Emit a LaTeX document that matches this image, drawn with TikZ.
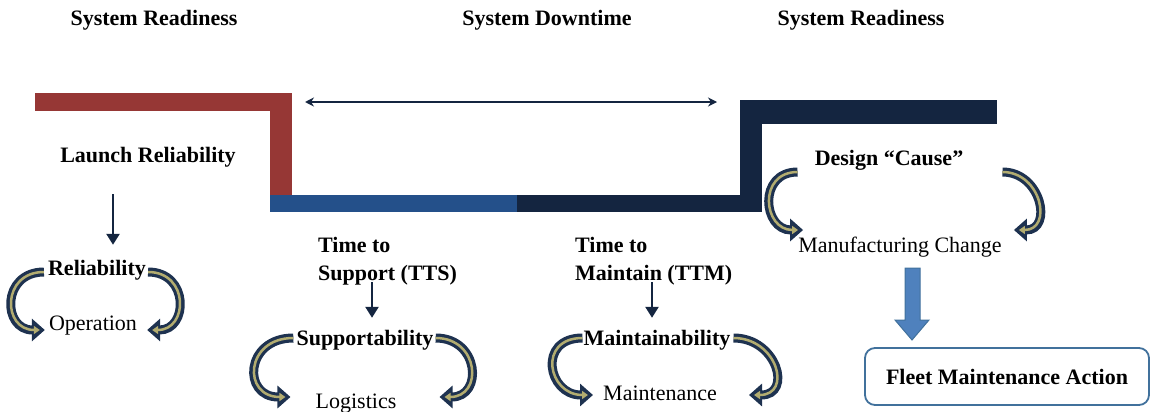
\documentclass[tikz,border=0pt]{standalone}
\usepackage{fontspec}
\setmainfont{Liberation Serif}
\usetikzlibrary{calc,positioning,arrows.meta}

\definecolor{stepred}{RGB}{150,55,53}
\definecolor{stepblue}{RGB}{36,80,138}
\definecolor{stepnavy}{RGB}{20,37,64}
\definecolor{curlnavy}{RGB}{30,50,80}
\definecolor{curlkhaki}{RGB}{178,172,112}
\definecolor{boxblue}{RGB}{65,113,156}
\definecolor{arrowblue}{RGB}{79,129,189}

\tikzset{
    boldtext/.style={font=\fontsize{22}{28}\selectfont\bfseries, inner sep=0pt},
    plaintext/.style={font=\fontsize{22}{28}\selectfont, inner sep=0pt},
    curlout/.style={line width=9pt, curlnavy, -{Triangle[width=22pt,length=13pt]}},
    curlin/.style={line width=2.5pt, curlkhaki, shorten >=5pt, -{Triangle[width=8pt,length=6pt]}},
    droparrow/.style={line width=2.5pt, stepnavy, -{Triangle[width=13pt,length=11pt]}},
    spanarrow/.style={line width=1.6pt, stepnavy, {Stealth[length=9pt,width=9pt]}-{Stealth[length=9pt,width=9pt]}},
    blockarrow/.style={fill=arrowblue, draw=boxblue, line width=1pt},
    fleetbox/.style={draw=boxblue, line width=1.8pt, rounded corners=10pt, minimum width=284pt, minimum height=57pt, fill=white, font=\fontsize{22}{28}\selectfont\bfseries}
}

% two layers: dark rim and light core
\newcommand{\curl}[4]{%
    \draw[curlout] #1 to[out=#3,in=#3,looseness=#4] #2;
    \draw[curlin] #1 to[out=#3,in=#3,looseness=#4] #2;
}

\begin{document}
\begin{tikzpicture}[x=1pt,y=-1pt]

    \useasboundingbox (0,0) rectangle (1151,412);

    % Draw the readiness / downtime steps
    \foreach \xa/\ya/\xb/\yb/\col in {35/93/292/111/stepred, 270/93/292/195/stepred,
                                      270/195/517/212/stepblue, 517/195/762/212/stepnavy,
                                      740/100/762/212/stepnavy, 740/100/997/124/stepnavy} {
        \fill[\col] (\xa,\ya) rectangle (\xb,\yb);
    }

    % Headings
    \node[boldtext] (readyA) at (154,20) {System Readiness};
    \node[boldtext] (downtime) at (547,20) {System Downtime};
    \node[boldtext] (readyB) at (861,20) {System Readiness};

    \coordinate (spanL) at (305,102);
    \coordinate (spanR) at (717,102);
    \draw[spanarrow] (spanL) -- (spanR);

    % Launch branch
    \node[boldtext] (launch) at (148,157) {Launch Reliability};
    \node[boldtext] (rel) at (97,270) {Reliability};
    \node[plaintext] (oper) at (93,326) {Operation};
    \draw[droparrow] ($(launch.south)+(-35,27)$) -- ($(rel.north)+(16,-15)$);
    \curl{($(rel.west)+(-4,2)$)}{($(oper.west)+(-4,4)$)}{180}{1.88}
    \curl{($(rel.east)+(2,2)$)}{($(oper.east)+(10,4)$)}{0}{1.82}

    % Support branch
    \node[boldtext, align=left, anchor=west] (tts) at (318,261) {Time to\\Support (TTS)};
    \node[boldtext] (supp) at (365,340) {Supportability};
    \node[plaintext] (logi) at (356,404) {Logistics};
    \draw[droparrow] ($(tts.south -| supp.north)+(7,-3)$) -- ($(supp.north)+(7,-12)$);
    \curl{($(supp.west)+(-3,-2)$)}{($(logi.west)+(-25,-7)$)}{180}{2.1}
    \curl{($(supp.east)+(2,-2)$)}{($(logi.east)+(43,-7)$)}{0}{1.9}

    % Maintain branch
    \node[boldtext, align=left, anchor=west] (ttm) at (575,261) {Time to\\Maintain (TTM)};
    \node[boldtext] (maint) at (657,340) {Maintainability};
    \node[plaintext] (mnce) at (660,393) {Maintenance};
    \draw[droparrow] ($(ttm.south -| maint.north)+(-5,-3)$) -- ($(maint.north)+(-5,-12)$);
    \curl{($(maint.west)+(-1,-2)$)}{($(mnce.west)+(-10,2)$)}{180}{2.0}
    \curl{($(maint.east)+(3,-2)$)}{($(mnce.east)+(32,2)$)}{0}{1.9}

    % Design branch
    \node[boldtext] (cause) at (889,160) {Design “Cause”};
    \node[plaintext] (mfg) at (900,247) {Manufacturing Change};
    \curl{($(cause.west)+(-17,12)$)}{($(mfg.west)+(5,-17)$)}{180}{1.76}
    \curl{($(cause.east)+(39,12)$)}{($(mfg.east)+(12,-17)$)}{0}{1.7}

    \node[fleetbox] (fleet) at (1007,376.5) {Fleet Maintenance Action};
    \draw[blockarrow] (905,268) -- (920,268) -- (920,320) -- (929,320) -- (912,340)
        -- (895,320) -- (905,320) -- cycle;

\end{tikzpicture}
\end{document}
